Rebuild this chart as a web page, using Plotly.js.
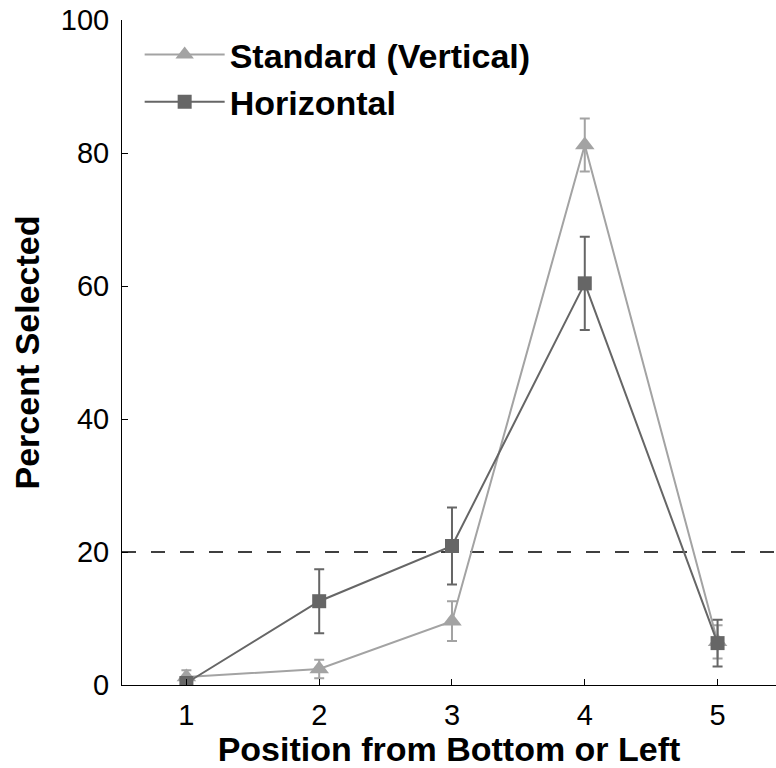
<!DOCTYPE html>
<html>
<head>
<meta charset="utf-8">
<script src="https://cdn.plot.ly/plotly-3.0.1.min.js"></script>
<style>html,body{margin:0;padding:0;background:#fff;}#chart{width:776px;height:768px;}</style>
</head>
<body>
<div id="chart"></div>
<script>
const positions = [1, 2, 3, 4, 5];
const tickLabels = ["1", "2", "3", "4", "5"];
const standardValues = [1.2, 2.4, 9.6, 81.2, 6.5];
const standardErrors = [1.0, 1.4, 3.0, 4.0, 2.5];
const horizontalValues = [0.3, 12.6, 20.9, 60.4, 6.3];
const horizontalErrors = [0.3, 4.8, 5.8, 7.0, 3.5];
const chanceLevel = 20;

const fontFam = "Liberation Sans, Arial, Helvetica, sans-serif";
const lightGray = "#a3a3a3";
const darkGray = "#666666";

const traces = [
  {
    x: positions, y: standardValues, name: "Standard (Vertical)",
    type: "scatter", mode: "lines+markers",
    line: {color: lightGray, width: 2},
    marker: {symbol: "triangle-up", size: 17, color: lightGray},
    error_y: {type: "data", array: standardErrors, visible: true, color: lightGray, thickness: 2, width: 5}
  },
  {
    x: positions, y: horizontalValues, name: "Horizontal",
    type: "scatter", mode: "lines+markers",
    line: {color: darkGray, width: 2},
    marker: {symbol: "square", size: 14, color: darkGray},
    error_y: {type: "data", array: horizontalErrors, visible: true, color: darkGray, thickness: 2, width: 5}
  }
];

const layout = {
  width: 776, height: 768,
  margin: {l: 122, r: 0, t: 20, b: 83},
  paper_bgcolor: "#fff", plot_bgcolor: "#fff",
  font: {family: fontFam, color: "#000", size: 24},
  showlegend: true,
  legend: {
    x: 0.027, y: 0.991, xanchor: "left", yanchor: "top",
    font: {family: fontFam, size: 34, color: "#000", weight: "bold"},
    bgcolor: "rgba(0,0,0,0)", tracegroupgap: 0, itemwidth: 80
  },
  xaxis: {
    range: [0.515, 5.44], tickvals: positions, ticktext: tickLabels,
    ticks: "inside", ticklen: 6, tickcolor: "#000", tickwidth: 1,
    showline: true, linecolor: "#000", linewidth: 1,
    showgrid: false, zeroline: false, ticklabelstandoff: 4,
    tickfont: {family: fontFam, size: 29, color: "#000"},
    title: {text: "Position from Bottom or Left", font: {family: fontFam, size: 34, color: "#000", weight: "bold"}, standoff: 2}
  },
  yaxis: {
    range: [0, 100], tickvals: [0, 20, 40, 60, 80, 100],
    ticks: "inside", ticklen: 6, tickcolor: "#000", tickwidth: 1,
    showline: true, linecolor: "#000", linewidth: 1,
    showgrid: false, zeroline: false, ticklabelstandoff: 6,
    tickfont: {family: fontFam, size: 29, color: "#000"},
    title: {text: "Percent Selected", font: {family: fontFam, size: 34, color: "#000", weight: "bold"}, standoff: 10}
  },
  shapes: [{
    type: "line", xref: "paper", x0: 0, x1: 1, yref: "y", y0: chanceLevel, y1: chanceLevel,
    line: {color: "#000", width: 1.3, dash: "14px,15px"}, layer: "below"
  }]
};

Plotly.newPlot("chart", traces, layout, {displayModeBar: false, staticPlot: true});
</script>
</body>
</html>
